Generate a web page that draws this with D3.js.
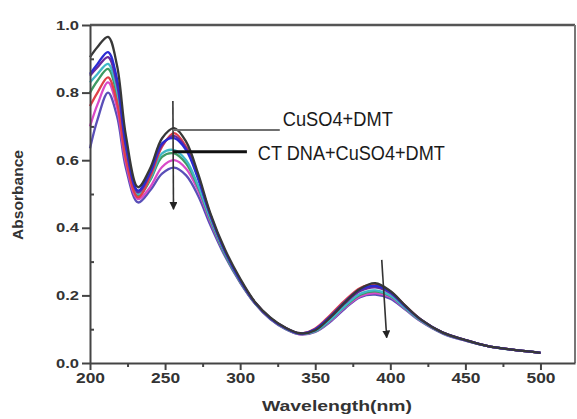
<!DOCTYPE html>
<html>
<head>
<meta charset="utf-8">
<script src="https://cdn.jsdelivr.net/npm/d3@7"></script>
<style>
  html, body { margin: 0; padding: 0; background: #fff; }
  svg { display: block; }
</style>
</head>
<body>
<svg id="chart" width="577" height="419"></svg>
<script>
// ---------------- DATA ----------------
const wavelengths = [200, 205, 212, 218, 224, 232, 240, 248, 256, 264, 272, 280, 290, 300, 310, 320, 330, 340, 350, 360, 370, 380, 390, 400, 410, 420, 435, 450, 465, 480, 500];

const seriesBlack   = [0.905, 0.935, 0.965, 0.880, 0.670, 0.520, 0.575, 0.665, 0.695, 0.655, 0.560, 0.445, 0.335, 0.250, 0.180, 0.135, 0.105, 0.088, 0.097, 0.135, 0.180, 0.220, 0.236, 0.213, 0.170, 0.130, 0.090, 0.068, 0.050, 0.040, 0.030];
const seriesBlue    = [0.855, 0.885, 0.920, 0.840, 0.645, 0.510, 0.565, 0.650, 0.665, 0.630, 0.545, 0.440, 0.330, 0.245, 0.178, 0.133, 0.104, 0.087, 0.100, 0.138, 0.182, 0.218, 0.228, 0.210, 0.168, 0.130, 0.090, 0.068, 0.050, 0.040, 0.030];
const seriesPurple  = [0.850, 0.875, 0.905, 0.825, 0.635, 0.505, 0.560, 0.645, 0.672, 0.635, 0.550, 0.440, 0.330, 0.245, 0.178, 0.133, 0.104, 0.088, 0.098, 0.135, 0.178, 0.213, 0.224, 0.207, 0.167, 0.129, 0.090, 0.068, 0.050, 0.040, 0.030];
const seriesCyan    = [0.830, 0.855, 0.885, 0.805, 0.620, 0.500, 0.545, 0.620, 0.630, 0.600, 0.525, 0.430, 0.325, 0.243, 0.177, 0.132, 0.103, 0.086, 0.095, 0.128, 0.170, 0.205, 0.215, 0.200, 0.163, 0.127, 0.089, 0.067, 0.050, 0.040, 0.030];
const seriesGreen   = [0.800, 0.835, 0.870, 0.790, 0.610, 0.495, 0.540, 0.610, 0.620, 0.590, 0.520, 0.425, 0.320, 0.240, 0.176, 0.131, 0.102, 0.086, 0.094, 0.127, 0.168, 0.202, 0.212, 0.198, 0.162, 0.126, 0.088, 0.067, 0.050, 0.040, 0.030];
const seriesRed     = [0.760, 0.800, 0.845, 0.770, 0.600, 0.490, 0.550, 0.640, 0.680, 0.640, 0.550, 0.440, 0.330, 0.245, 0.178, 0.133, 0.104, 0.087, 0.102, 0.142, 0.186, 0.222, 0.232, 0.212, 0.169, 0.130, 0.090, 0.068, 0.050, 0.040, 0.030];
const seriesMagenta = [0.700, 0.765, 0.830, 0.755, 0.590, 0.485, 0.520, 0.580, 0.600, 0.575, 0.510, 0.420, 0.320, 0.240, 0.176, 0.131, 0.102, 0.085, 0.093, 0.125, 0.165, 0.198, 0.207, 0.195, 0.160, 0.125, 0.088, 0.066, 0.050, 0.040, 0.030];
const seriesViolet  = [0.635, 0.720, 0.800, 0.730, 0.575, 0.475, 0.510, 0.560, 0.578, 0.555, 0.495, 0.410, 0.315, 0.238, 0.175, 0.130, 0.101, 0.085, 0.092, 0.122, 0.162, 0.195, 0.202, 0.190, 0.158, 0.124, 0.087, 0.066, 0.050, 0.040, 0.030];

const seriesNames  = ["violet", "magenta", "green", "cyan", "red", "purple", "blue", "black"];
const seriesValues = [seriesViolet, seriesMagenta, seriesGreen, seriesCyan, seriesRed, seriesPurple, seriesBlue, seriesBlack];
const seriesColors = ["#5a4fb8", "#d84ac8", "#3f9a63", "#3fb8c8", "#e0404a", "#6a2a9c", "#2a2ad4", "#383838"];

const xTicks = [200, 250, 300, 350, 400, 450, 500];
const xMinorTicks = [225, 275, 325, 375, 425, 475];
const yTicks = [0.0, 0.2, 0.4, 0.6, 0.8, 1.0];
const yMinorTicks = [0.1, 0.3, 0.5, 0.7, 0.9];

const xTitle = "Wavelength(nm)";
const yTitle = "Absorbance";

// annotations in data coordinates
const arrows = [
  { x1: 255.2, y1: 0.775, x2: 255.6, y2: 0.455 },
  { x1: 394.3, y1: 0.305, x2: 397.6, y2: 0.075 }
];
const labelLines = [
  { x1: 255.2, x2: 326.4, y: 0.689, color: "#707070", width: 2 },
  { x1: 255.2, x2: 304.5, y: 0.625, color: "#111111", width: 3 }
];
const labels = [
  { text: "CuSO4+DMT", x: 328.4, y: 0.700, len: 110 },
  { text: "CT DNA+CuSO4+DMT", x: 311.8, y: 0.600, len: 187 }
];

// ---------------- CHART ----------------
const svg = d3.select("#chart");
const x = d3.scaleLinear().domain([200, 523]).range([90, 575]);
const y = d3.scaleLinear().domain([0, 1]).range([363, 25]);

// curves
const line = d3.line()
  .x((d, i) => x(wavelengths[i]))
  .y(d => y(d))
  .curve(d3.curveCatmullRom.alpha(0.5));

svg.append("g").selectAll("path")
  .data(seriesValues)
  .join("path")
  .attr("d", d => line(d))
  .attr("fill", "none")
  .attr("stroke", (d, i) => seriesColors[i])
  .attr("stroke-width", 2.3)
  .attr("stroke-linejoin", "round");

// frame top & right
svg.append("line").attr("x1", x(200)).attr("x2", x(523)).attr("y1", y(1)).attr("y2", y(1))
  .attr("stroke", "#555").attr("stroke-width", 2.5);
svg.append("line").attr("x1", x(523)).attr("x2", x(523)).attr("y1", y(1)).attr("y2", y(0))
  .attr("stroke", "#777").attr("stroke-width", 2);

const labelFont = "'Liberation Sans', Arial, sans-serif";

// x axis
const gx = svg.append("g").attr("transform", `translate(0,${y(0)})`)
  .call(d3.axisBottom(x).tickValues(xTicks).tickSize(7).tickSizeOuter(0).tickPadding(3));
gx.select(".domain").attr("stroke", "#444").attr("stroke-width", 2);
gx.selectAll(".tick line").attr("stroke", "#444").attr("stroke-width", 2);
gx.selectAll(".tick text")
  .attr("font-family", labelFont).attr("font-size", 14).attr("font-weight", "bold")
  .attr("fill", "#333").attr("textLength", 29).attr("lengthAdjust", "spacingAndGlyphs");
const gxm = svg.append("g").attr("transform", `translate(0,${y(0)})`)
  .call(d3.axisBottom(x).tickValues(xMinorTicks).tickSize(4).tickSizeOuter(0).tickFormat(""));
gxm.select(".domain").remove();
gxm.selectAll(".tick line").attr("stroke", "#444").attr("stroke-width", 2);

// y axis
const gy = svg.append("g").attr("transform", `translate(${x(200)},0)`)
  .call(d3.axisLeft(y).tickValues(yTicks).tickSize(8).tickSizeOuter(0).tickPadding(3).tickFormat(d3.format(".1f")));
gy.select(".domain").attr("stroke", "#444").attr("stroke-width", 2);
gy.selectAll(".tick line").attr("stroke", "#444").attr("stroke-width", 2);
gy.selectAll(".tick text")
  .attr("font-family", labelFont).attr("font-size", 13).attr("font-weight", "bold")
  .attr("fill", "#333").attr("textLength", 23).attr("lengthAdjust", "spacingAndGlyphs");
const gym = svg.append("g").attr("transform", `translate(${x(200)},0)`)
  .call(d3.axisRight(y).tickValues(yMinorTicks).tickSize(4).tickSizeOuter(0).tickFormat(""));
gym.select(".domain").remove();
gym.selectAll(".tick line").attr("stroke", "#444").attr("stroke-width", 2);

// axis titles
svg.append("text").text(xTitle)
  .attr("x", 337).attr("y", 411).attr("text-anchor", "middle")
  .attr("font-family", labelFont).attr("font-size", 15).attr("font-weight", "bold").attr("fill", "#333")
  .attr("textLength", 150).attr("lengthAdjust", "spacingAndGlyphs");
svg.append("text").text(yTitle)
  .attr("transform", `translate(23,${(y(0) + y(1)) / 2 + 1}) rotate(-90)`)
  .attr("text-anchor", "middle")
  .attr("font-family", labelFont).attr("font-size", 15).attr("font-weight", "bold").attr("fill", "#333")
  .attr("textLength", 90).attr("lengthAdjust", "spacingAndGlyphs");

// arrows
const defs = svg.append("defs");
defs.append("marker").attr("id", "arrowhead")
  .attr("viewBox", "0 0 10 10").attr("refX", 9).attr("refY", 5)
  .attr("markerWidth", 5).attr("markerHeight", 5).attr("orient", "auto")
  .attr("markerUnits", "strokeWidth")
  .append("path").attr("d", "M0,0 L10,5 L0,10 Z").attr("fill", "#222");

svg.append("g").selectAll("line.arrow")
  .data(arrows).join("line")
  .attr("x1", d => x(d.x1)).attr("y1", d => y(d.y1))
  .attr("x2", d => x(d.x2)).attr("y2", d => y(d.y2))
  .attr("stroke", "#333").attr("stroke-width", 1.6)
  .attr("marker-end", "url(#arrowhead)");

// label lines
svg.append("g").selectAll("line.lab")
  .data(labelLines).join("line")
  .attr("x1", d => x(d.x1)).attr("x2", d => x(d.x2))
  .attr("y1", d => y(d.y)).attr("y2", d => y(d.y))
  .attr("stroke", d => d.color).attr("stroke-width", d => d.width);

svg.append("g").selectAll("text.lab")
  .data(labels).join("text")
  .text(d => d.text)
  .attr("x", d => x(d.x)).attr("y", d => y(d.y))
  .attr("font-family", labelFont).attr("font-size", 20).attr("fill", "#1a1a1a")
  .attr("textLength", d => d.len).attr("lengthAdjust", "spacingAndGlyphs");
</script>
</body>
</html>
